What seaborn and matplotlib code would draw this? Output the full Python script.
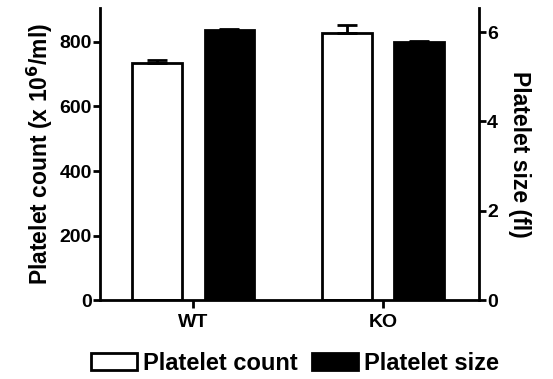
import seaborn as sns
import matplotlib.pyplot as plt
import numpy as np

# values
groups = ['WT', 'KO']
count_mean = [736, 826]
count_err = [9, 25]
size_mean = [6.05, 5.77]
size_err = [0.03, 0.02]
series = ['Platelet count', 'Platelet size']

sns.set_style('ticks')
plt.rcParams['font.family'] = ['Liberation Sans', 'DejaVu Sans']
plt.rcParams['font.weight'] = 'bold'
plt.rcParams['axes.labelweight'] = 'bold'
plt.rcParams['text.color'] = 'black'
plt.rcParams['axes.labelcolor'] = 'black'
plt.rcParams['xtick.color'] = 'black'
plt.rcParams['ytick.color'] = 'black'
plt.rcParams['axes.edgecolor'] = 'black'

fig = plt.figure(figsize=(5.53, 3.79), dpi=100)
ax = fig.add_axes([0.181, 0.208, 0.685, 0.771])
ax2 = ax.twinx()

x = np.arange(len(groups))
w = 0.26
off = 0.19
ax.bar(x - off, count_mean, width=w, color='white', edgecolor='black', linewidth=2,
       yerr=[[0, 0], count_err], capsize=7, error_kw={'elinewidth': 2, 'capthick': 2})
ax2.bar(x + off, size_mean, width=w, color='black', edgecolor='black', linewidth=2,
        yerr=[[0, 0], size_err], capsize=7, error_kw={'elinewidth': 2, 'capthick': 2})

ax.set_ylim(0, 905)
ax2.set_ylim(0, 6.54)
ax.set_yticks([0, 200, 400, 600, 800])
ax2.set_yticks([0, 2, 4, 6])
ax.set_xlim(-0.49, 1.505)
ax.set_xticks(x)
ax.set_xticklabels(groups)

ax.set_ylabel('Platelet count (x 10$^{\\mathbf{6}}$/ml)', fontsize=16.5, labelpad=3)
ax2.set_ylabel('Platelet size (fl)', fontsize=16.5, rotation=270, labelpad=24)

for a in (ax, ax2):
    for s in a.spines.values():
        s.set_linewidth(2)
    a.spines['top'].set_visible(False)
    a.tick_params(width=2, length=5, labelsize=14, pad=1)
ax.spines['right'].set_visible(False)
ax.tick_params(axis='x', length=6, pad=4, labelsize=14)
ax2.spines['left'].set_visible(False)
ax2.spines['bottom'].set_visible(False)
for lab in ax.get_xticklabels() + ax.get_yticklabels() + ax2.get_yticklabels():
    lab.set_fontweight('bold')

handles = [plt.Rectangle((0, 0), 1, 1, facecolor=c, edgecolor='black', linewidth=2)
           for c in ['white', 'black']]
fig.legend(handles, series, loc='center', bbox_to_anchor=(0.533, 0.042), ncol=2,
           frameon=False, handlelength=1.95, handleheight=0.75,
           handletextpad=0.25, columnspacing=0.6, prop={'weight': 'bold', 'size': 17})

fig.savefig('out.png', dpi=100)
